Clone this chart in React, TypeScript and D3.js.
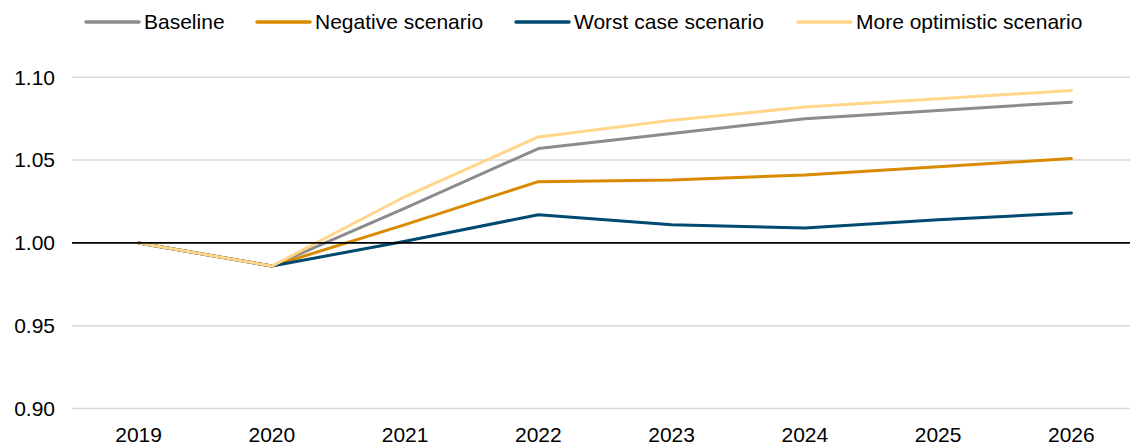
import { useRef, useEffect } from "react";
import * as d3 from "d3";

const years = ["2019", "2020", "2021", "2022", "2023", "2024", "2025", "2026"];
const baseline = [1.0, 0.986, 1.021, 1.057, 1.066, 1.075, 1.08, 1.085];
const negative = [1.0, 0.986, 1.011, 1.037, 1.038, 1.041, 1.046, 1.051];
const worstCase = [1.0, 0.986, 1.001, 1.017, 1.011, 1.009, 1.014, 1.018];
const optimistic = [1.0, 0.986, 1.028, 1.064, 1.074, 1.082, 1.087, 1.092];
const yTicks = [0.9, 0.95, 1.0, 1.05, 1.1];

const series = [
  { label: "Baseline", values: baseline, color: "#8c8c8c" },
  { label: "Negative scenario", values: negative, color: "#d98b00" },
  { label: "Worst case scenario", values: worstCase, color: "#004a70" },
  { label: "More optimistic scenario", values: optimistic, color: "#ffd68a" },
];

const legendX = [86, 257, 516, 798];

export default function App() {
  const ref = useRef<SVGSVGElement>(null);
  const width = 1130;
  const height = 446;

  useEffect(() => {
    if (!ref.current) return;
    const svg = d3.select(ref.current);
    svg.selectAll("*").remove();
    const font = "'Liberation Sans', Arial, sans-serif";

    const left = 72;
    const right = 1138;
    const x = d3.scalePoint().domain(years).range([left, right]).padding(0.5);
    const y = d3.scaleLinear().domain([0.9, 1.1]).range([408.5, 77.3]);

    // grid
    svg.append("g").selectAll("line").data(yTicks.filter(t => t !== 1.0)).enter().append("line")
      .attr("x1", left).attr("x2", width).attr("y1", d => y(d)).attr("y2", d => y(d))
      .attr("stroke", "#d9d9d9").attr("stroke-width", 1.5);

    // y labels
    svg.append("g").selectAll("text").data(yTicks).enter().append("text")
      .attr("x", 55).attr("y", d => y(d)).attr("dy", "0.35em").attr("text-anchor", "end")
      .attr("font-family", font).attr("font-size", 21).attr("fill", "#000")
      .text(d => d3.format(".2f")(d));

    // x labels
    svg.append("g").selectAll("text").data(years).enter().append("text")
      .attr("x", d => x(d)!).attr("y", 442).attr("text-anchor", "middle")
      .attr("font-family", font).attr("font-size", 21).attr("fill", "#000")
      .text(d => d);

    // series
    const line = d3.line<number>().x((_, i) => x(years[i])!).y(d => y(d));
    series.forEach(s => {
      svg.append("path").datum(s.values).attr("d", line).attr("fill", "none")
        .attr("stroke", s.color).attr("stroke-width", 3).attr("stroke-linejoin", "round")
        .attr("stroke-linecap", "round");
    });

    // 1.00 axis line
    svg.append("line").attr("x1", left).attr("x2", width).attr("y1", y(1)).attr("y2", y(1))
      .attr("stroke", "#000").attr("stroke-width", 1.8);

    // legend
    const lg = svg.append("g");
    series.forEach((s, i) => {
      const g = lg.append("g").attr("transform", `translate(${legendX[i]},22)`);
      g.append("line").attr("x1", 0).attr("x2", 53).attr("y1", 0).attr("y2", 0)
        .attr("stroke", s.color).attr("stroke-width", 3.5).attr("stroke-linecap", "round");
      g.append("text").attr("x", 58).attr("y", 0).attr("dy", "0.35em")
        .attr("font-family", font).attr("font-size", 21).attr("fill", "#000").text(s.label);
    });
  }, []);

  return (
    <svg ref={ref} width={width} height={height}
      style={{ display: "block", position: "absolute", left: 0, top: 0, background: "#fff" }} />
  );
}
